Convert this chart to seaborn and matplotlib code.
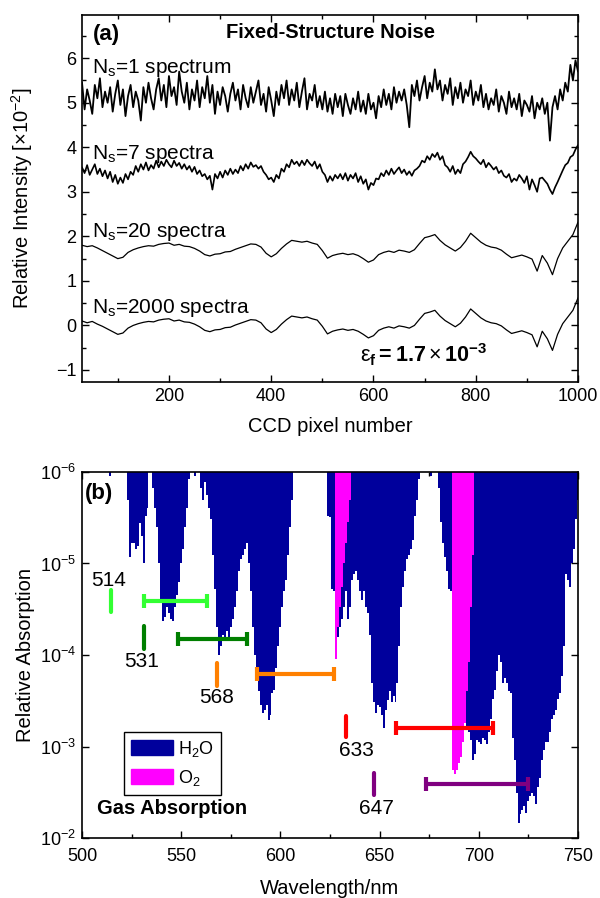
import numpy as np
import matplotlib
matplotlib.use("Agg")
import matplotlib.pyplot as plt
from matplotlib.patches import Patch
from matplotlib.ticker import MultipleLocator, FixedLocator, NullLocator
import seaborn as sns

# === DATA: panel (a), fixed-structure noise, units of 1e-2 ===
pix_fine = np.arange(30, 1001, 5)     # N_s = 1 and 7, every 5 pixels
pix_coarse = np.arange(30, 1001, 10)  # N_s = 20 and 2000, every 10 pixels

ns1 = [5.45, 4.85, 5.30, 5.05, 4.75, 5.40, 5.10, 5.55, 4.90, 5.25,
       5.00, 5.35, 4.80, 5.20, 5.50, 4.95, 5.30, 4.70, 5.15, 5.40,
       4.90, 5.25, 5.05, 4.60, 5.35, 5.00, 5.45, 5.10, 4.85, 5.30,
       5.55, 5.05, 5.40, 4.90, 5.60, 5.15, 5.35, 4.95, 5.70, 5.25,
       5.00, 5.45, 4.85, 5.30, 5.05, 5.50, 4.90, 5.35, 5.10, 5.60,
       5.00, 5.40, 4.75, 5.25, 4.95, 5.35, 5.15, 4.80, 5.20, 5.45,
       5.05, 5.30, 4.85, 5.40, 5.10, 4.90, 5.35, 5.00, 5.25, 5.50,
       4.95, 5.20, 4.80, 5.35, 5.05, 4.70, 5.25, 4.95, 5.40, 5.10,
       5.50, 4.95, 5.30, 5.05, 5.45, 4.90, 5.25, 5.55, 4.85, 5.20,
       5.05, 5.40, 4.90, 5.15, 4.85, 5.25, 4.80, 5.10, 4.75, 5.20,
       4.90, 5.15, 4.70, 5.20, 4.95, 4.75, 5.10, 4.85, 5.25, 4.80,
       5.05, 4.75, 5.20, 4.85, 5.00, 4.65, 5.15, 4.90, 5.30, 4.95,
       5.20, 4.85, 5.35, 5.00, 5.25, 5.05, 5.30, 4.95, 4.45, 5.40,
       5.15, 5.50, 5.05, 5.35, 5.60, 5.10, 5.45, 5.25, 5.75, 5.30,
       5.50, 5.05, 5.40, 5.20, 5.55, 4.95, 5.35, 5.10, 5.45, 5.00,
       5.30, 5.15, 5.50, 4.95, 5.25, 5.05, 5.40, 4.90, 5.20, 4.85,
       5.10, 4.95, 5.30, 4.80, 5.15, 5.00, 4.75, 5.25, 4.90, 5.10,
       4.85, 5.20, 4.70, 5.05, 4.95, 4.80, 5.15, 4.65, 5.00, 4.85,
       5.10, 4.75, 5.00, 4.15, 4.90, 5.15, 4.85, 5.30, 5.05, 5.45,
       5.25, 5.85, 5.50, 5.95, 5.70]

ns7 = [3.55, 3.42, 3.60, 3.38, 3.50, 3.62, 3.40, 3.52, 3.35, 3.48,
       3.30, 3.45, 3.22, 3.38, 3.18, 3.32, 3.20, 3.40, 3.28, 3.45,
       3.38, 3.58, 3.45, 3.62, 3.50, 3.66, 3.48, 3.60, 3.52, 3.70,
       3.55, 3.68, 3.58, 3.72, 3.62, 3.55, 3.70, 3.58, 3.65, 3.52,
       3.62, 3.50, 3.58, 3.45, 3.56, 3.40, 3.48, 3.35, 3.40, 3.28,
       3.36, 3.05, 3.40, 3.30, 3.45, 3.32, 3.48, 3.38, 3.52, 3.40,
       3.50, 3.42, 3.58, 3.48, 3.62, 3.52, 3.66, 3.56, 3.60, 3.52,
       3.58, 3.45, 3.38, 3.28, 3.32, 3.22, 3.38, 3.30, 3.52, 3.45,
       3.62, 3.55, 3.72, 3.62, 3.68, 3.58, 3.70, 3.60, 3.72, 3.64,
       3.58, 3.68, 3.52, 3.62, 3.45, 3.38, 3.22, 3.35, 3.25, 3.38,
       3.30, 3.40, 3.28, 3.42, 3.25, 3.38, 3.30, 3.42, 3.22, 3.35,
       3.18, 3.28, 3.05, 3.20, 3.15, 3.30, 3.28, 3.42, 3.35, 3.48,
       3.38, 3.52, 3.40, 3.48, 3.55, 3.42, 3.50, 3.38, 3.46, 3.36,
       3.48, 3.52, 3.58, 3.70, 3.66, 3.80, 3.72, 3.85, 3.78, 3.88,
       3.72, 3.80, 3.60, 3.55, 3.45, 3.58, 3.40, 3.50, 3.42, 3.62,
       3.68, 3.78, 3.90, 3.80, 3.75, 3.68, 3.62, 3.72, 3.55, 3.65,
       3.58, 3.50, 3.56, 3.42, 3.48, 3.36, 3.32, 3.40, 3.22, 3.30,
       3.25, 3.38, 3.30, 3.20, 3.35, 3.05, 3.28, 3.15, 3.00, 3.30,
       3.32, 3.25, 3.18, 3.05, 2.95, 3.10, 3.22, 3.35, 3.48, 3.60,
       3.65, 3.78, 3.82, 3.95, 4.05]

ns20 = [1.80, 1.77, 1.79, 1.74, 1.68, 1.62, 1.56, 1.50, 1.53, 1.64,
        1.70, 1.74, 1.77, 1.79, 1.78, 1.82, 1.84, 1.85, 1.80, 1.82,
        1.78, 1.77, 1.73, 1.67, 1.59, 1.56, 1.60, 1.61, 1.65, 1.66,
        1.71, 1.75, 1.79, 1.83, 1.82, 1.76, 1.62, 1.54, 1.61, 1.73,
        1.83, 1.91, 1.89, 1.87, 1.89, 1.85, 1.82, 1.68, 1.51, 1.57,
        1.60, 1.62, 1.59, 1.61, 1.57, 1.50, 1.42, 1.47, 1.59, 1.64,
        1.67, 1.64, 1.69, 1.67, 1.64, 1.70, 1.84, 1.97, 2.00, 2.04,
        1.91, 1.81, 1.74, 1.67, 1.75, 1.89, 2.07, 1.97, 1.87, 1.80,
        1.76, 1.74, 1.69, 1.60, 1.52, 1.55, 1.58, 1.54, 1.49, 1.22,
        1.57, 1.40, 1.14, 1.50, 1.74, 1.89, 2.04, 2.32]

ns2000 = [0.10, 0.06, 0.09, 0.03, -0.02, -0.08, -0.14, -0.20, -0.17, -0.06,
          0.00, 0.04, 0.07, 0.09, 0.08, 0.12, 0.14, 0.15, 0.10, 0.12,
          0.08, 0.07, 0.03, -0.03, -0.11, -0.14, -0.10, -0.09, -0.05, -0.04,
          0.01, 0.05, 0.09, 0.13, 0.12, 0.06, -0.08, -0.16, -0.09, 0.03,
          0.13, 0.21, 0.19, 0.17, 0.19, 0.15, 0.12, -0.02, -0.19, -0.13,
          -0.10, -0.08, -0.11, -0.09, -0.13, -0.20, -0.28, -0.23, -0.11, -0.06,
          -0.03, -0.06, -0.01, -0.03, -0.06, 0.00, 0.14, 0.27, 0.30, 0.34,
          0.21, 0.11, 0.04, -0.03, 0.05, 0.19, 0.37, 0.27, 0.17, 0.10,
          0.06, 0.04, -0.01, -0.10, -0.18, -0.15, -0.12, -0.16, -0.21, -0.48,
          -0.13, -0.30, -0.56, -0.20, 0.04, 0.19, 0.34, 0.62]

curve_labels = ["N$_s$=1 spectrum", "N$_s$=7 spectra",
                "N$_s$=20 spectra", "N$_s$=2000 spectra"]
label_y = [5.66, 3.73, 1.98, 0.29]

# === DATA: panel (b), gas absorption ===
wl = np.arange(500, 751)
h2o = [5e-7, 5e-7, 5e-7, 5e-7, 5e-7, 5e-7, 5e-7, 5e-7, 5e-7, 5e-7,
       5e-7, 5e-7, 5e-7, 5e-7, 1.1e-6, 5e-7, 5e-7, 5e-7, 5e-7, 5e-7,
       5e-7, 5e-7, 5e-7, 2e-6, 8.5e-6, 6e-6, 6e-6, 7e-6, 6.5e-6, 3.6e-6,
       5e-6, 1e-5, 3e-6, 2.5e-6, 5e-7, 5e-7, 1.5e-6, 2.5e-6, 4e-6, 1e-5,
       2.5e-5, 4.3e-5, 3.8e-5, 3e-5, 3.5e-5, 4e-5, 4.2e-5, 3e-5, 2.2e-5, 1.6e-5,
       1e-5, 7e-6, 4e-6, 2.5e-6, 1.2e-6, 5e-7, 5e-7, 1.1e-6, 5e-7, 5e-7,
       1.5e-6, 2e-6, 1.3e-6, 1.8e-6, 2.5e-6, 3.3e-6, 8e-6, 1.9e-5, 5e-5, 1e-4,
       8e-5, 6e-5, 7e-5, 5.5e-5, 6.5e-5, 5e-5, 4e-5, 3e-5, 2e-5, 1.2e-5,
       9e-6, 8e-6, 7e-6, 6e-6, 1e-5, 2e-5, 5e-5, 1e-4, 1.6e-4, 2.5e-4,
       3.5e-4, 4.3e-4, 4e-4, 3.5e-4, 5.1e-4, 4.5e-4, 2.6e-4, 2.4e-4, 1.4e-4, 8e-5,
       5e-5, 3e-5, 2e-5, 1.5e-5, 8e-6, 4e-6, 2e-6, 5e-7, 5e-7, 5e-7,
       5e-7, 5e-7, 5e-7, 5e-7, 5e-7, 5e-7, 5e-7, 5e-7, 5e-7, 5e-7,
       5e-7, 5e-7, 5e-7, 5e-7, 3e-6, 3.1e-6, 1.9e-5, 2e-5, 6e-5, 6.3e-5,
       5e-5, 4e-5, 3e-5, 2e-5, 4e-5, 3e-5, 1.5e-5, 1.3e-5, 1.2e-5, 1.5e-5,
       2e-5, 2.5e-5, 2e-5, 3e-5, 3.5e-5, 6e-5, 2e-4, 3.3e-4, 4.3e-4, 3.5e-4,
       3.7e-4, 4.5e-4, 6.3e-4, 4e-4, 3.1e-4, 2.5e-4, 3.3e-4, 2.8e-4, 3.3e-4, 2e-4,
       8e-5, 3e-5, 1.8e-5, 1.2e-5, 9e-6, 8e-6, 7e-6, 5.5e-6, 3e-6, 2e-6,
       1.2e-6, 5e-7, 5e-7, 5e-7, 5e-7, 5e-7, 1.1e-6, 5e-7, 5e-7, 5e-7,
       1.5e-6, 3.5e-6, 6e-6, 8.5e-6, 1.2e-5, 1.9e-5, 2e-5, 3e-5, 4e-5, 6e-5,
       1e-4, 2e-4, 4e-4, 5e-4, 6.1e-4, 7e-4, 8.5e-4, 1.4e-3, 1.2e-3, 8.5e-4,
       9e-4, 9.5e-4, 8e-4, 8.5e-4, 9.5e-4, 7e-4, 5e-4, 3e-4, 2.4e-4, 1.5e-4,
       1e-4, 1.2e-4, 2e-4, 1.8e-4, 2e-4, 2.5e-4, 2.6e-4, 8e-4, 1.4e-3, 3.2e-3,
       6.9e-3, 5.5e-3, 5e-3, 4.5e-3, 5.3e-3, 3.9e-3, 3.5e-3, 3.2e-3, 3.5e-3, 4.2e-3,
       2.8e-3, 2.2e-3, 1.4e-3, 1.1e-3, 9e-4, 9e-4, 7e-4, 5e-4, 4.5e-4, 4e-4,
       3e-4, 2.6e-4, 1.7e-4, 8e-5, 1.3e-5, 1.5e-5, 1.8e-5, 1e-5, 7e-6, 3.3e-6,
       2e-6]

o2_wl_a = np.arange(627, 637)
o2_a = [5e-7, 1.1e-4, 5e-5, 3e-5, 1.8e-5, 1e-5, 6e-6, 3.5e-6, 2e-6, 5e-7]
o2_wl_b = np.arange(686, 699)
o2_b = [5e-7, 1.8e-3, 2e-3, 1.8e-3, 1.5e-3, 1.3e-3, 9e-4, 5.5e-4, 2.5e-4,
        1.2e-4, 3e-5, 8e-6, 5e-7]

# laser lines and their Raman ranges
laser_nm = [514.5, 531, 568.2, 632.8, 647.1]
laser_names = ["514", "531", "568", "633", "647"]
laser_colors = ["#33ff33", "#007f00", "#ff8000", "#ff0000", "#800080"]
mark_top = [1.95e-5, 4.8e-5, 1.23e-4, 4.6e-4, 1.95e-3]
mark_bot = [3.4e-5, 8.5e-5, 2.2e-4, 7.9e-4, 3.4e-3]
range_lo = [531, 548.2, 588, 658.3, 673.2]
range_hi = [563, 583, 627.2, 707.3, 724.6]
range_y = [2.6e-5, 6.7e-5, 1.62e-4, 6.2e-4, 2.6e-3]
name_x = [513.3, 530.1, 567.9, 638.4, 648.5]
name_y = [1.54e-5, 1.18e-4, 2.95e-4, 1.1e-3, 4.7e-3]

NAVY = "#00009c"
MAGENTA = "#ff00ff"

# === STYLE ===
sns.set_theme(style="ticks")
plt.rcParams["font.family"] = ["Liberation Sans", "DejaVu Sans"]
plt.rcParams["mathtext.fontset"] = "custom"
plt.rcParams["mathtext.rm"] = "Liberation Sans"
plt.rcParams["mathtext.it"] = "Liberation Sans:italic"
plt.rcParams["mathtext.bf"] = "Liberation Sans:bold"
plt.rcParams["mathtext.default"] = "regular"
for key in ["text.color", "axes.labelcolor", "xtick.color", "ytick.color",
            "axes.edgecolor"]:
    plt.rcParams[key] = "black"

fig = plt.figure(figsize=(6.0, 8.98), dpi=100)
ax_a = fig.add_axes([0.1367, 0.5746, 0.8267, 0.4087])
ax_b = fig.add_axes([0.1367, 0.0668, 0.8267, 0.4076])

# === PANEL (a) ===
for xs, ys, lw in [(pix_fine, ns1, 1.3), (pix_fine, ns7, 1.2),
                   (pix_coarse, ns20, 0.9), (pix_coarse, ns2000, 0.9)]:
    sns.lineplot(x=xs, y=ys, ax=ax_a, color="black", lw=lw,
                 estimator=None, sort=False)

for txt, yy in zip(curve_labels, label_y):
    ax_a.text(50, yy, txt, fontsize=15, va="baseline", ha="left")

ax_a.set_xlim(30, 1000)
ax_a.set_ylim(-1.27, 6.97)
ax_a.xaxis.set_major_locator(FixedLocator([200, 400, 600, 800, 1000]))
ax_a.xaxis.set_minor_locator(MultipleLocator(100))
ax_a.yaxis.set_major_locator(MultipleLocator(1))
ax_a.yaxis.set_minor_locator(MultipleLocator(0.5))
ax_a.set_xlabel("CCD pixel number", fontsize=14.5)
ax_a.set_ylabel("Relative Intensity [\u00d710$^{-2}$]", fontsize=14.5)
ax_a.xaxis.set_label_coords(0.5, -0.095)
ax_a.yaxis.set_label_coords(-0.095, 0.5)

ax_a.text(0.022, 0.946, "(a)", transform=ax_a.transAxes, fontsize=16,
          fontweight="bold", va="center", ha="left")
ax_a.text(0.5, 0.951, "Fixed-Structure Noise", transform=ax_a.transAxes,
          fontsize=14.5, fontweight="bold", va="center", ha="center")
ax_a.text(822, -0.84, r"$\varepsilon_{\mathbf{f}}\mathbf{=1.7}\times\mathbf{10^{-3}}$",
          fontsize=15.5, ha="right", va="baseline")

# === PANEL (b) ===
ax_b.set_yscale("log")
ax_b.fill_between(wl, 1e-6, h2o, step="mid", color=NAVY, lw=0)
ax_b.fill_between(o2_wl_a, 1e-6, o2_a, step="mid", color=MAGENTA, lw=0)
ax_b.fill_between(o2_wl_b, 1e-6, o2_b, step="mid", color=MAGENTA, lw=0)

for i in range(len(laser_nm)):
    c = laser_colors[i]
    ax_b.vlines(laser_nm[i], mark_top[i], mark_bot[i], colors=c, lw=3,
                capstyle="round", zorder=4)
    ax_b.errorbar(range_lo[i], range_y[i], xerr=[[0], [range_hi[i] - range_lo[i]]],
                  fmt="none", ecolor=c, elinewidth=3, capsize=5, capthick=3, zorder=4)
    ax_b.text(name_x[i], name_y[i], laser_names[i], fontsize=15,
              ha="center", va="center")

ax_b.set_xlim(500, 750)
ax_b.set_ylim(1e-2, 1e-6)
ax_b.xaxis.set_major_locator(MultipleLocator(50))
ax_b.xaxis.set_minor_locator(MultipleLocator(25))
ax_b.yaxis.set_major_locator(FixedLocator([1e-6, 1e-5, 1e-4, 1e-3, 1e-2]))
ax_b.yaxis.set_minor_locator(NullLocator())
ax_b.set_xlabel("Wavelength/nm", fontsize=14.5)
ax_b.set_ylabel("Relative Absorption", fontsize=14.5)
ax_b.xaxis.set_label_coords(0.5, -0.112)
ax_b.yaxis.set_label_coords(-0.095, 0.5)

ax_b.text(0.006, 0.94, "(b)", transform=ax_b.transAxes, fontsize=16,
          fontweight="bold", va="center", ha="left")
ax_b.text(0.03, 0.066, "Gas Absorption", transform=ax_b.transAxes,
          fontsize=14.5, fontweight="bold", va="baseline", ha="left")

handles = [Patch(facecolor=NAVY, edgecolor=NAVY, label="H$_2$O"),
           Patch(facecolor=MAGENTA, edgecolor=MAGENTA, label="O$_2$")]
leg = ax_b.legend(handles=handles, loc="upper left", bbox_to_anchor=(0.085, 0.29),
                  borderaxespad=0, fontsize=13, frameon=True, fancybox=False,
                  framealpha=1, edgecolor="black", handlelength=2.3,
                  handleheight=0.9, handletextpad=0.3, borderpad=0.4,
                  labelspacing=0.5)
leg.get_frame().set_linewidth(1.0)

for ax in (ax_a, ax_b):
    ax.tick_params(which="both", direction="in", top=True, right=True,
                   width=1.0, colors="black", labelsize=13, pad=4)
    ax.tick_params(which="major", length=5)
    ax.tick_params(which="minor", length=3)
    for s in ax.spines.values():
        s.set_linewidth(1.2)
        s.set_color("black")
ax_b.tick_params(axis="x", which="both", pad=7)

fig.savefig("out.png", dpi=100)
